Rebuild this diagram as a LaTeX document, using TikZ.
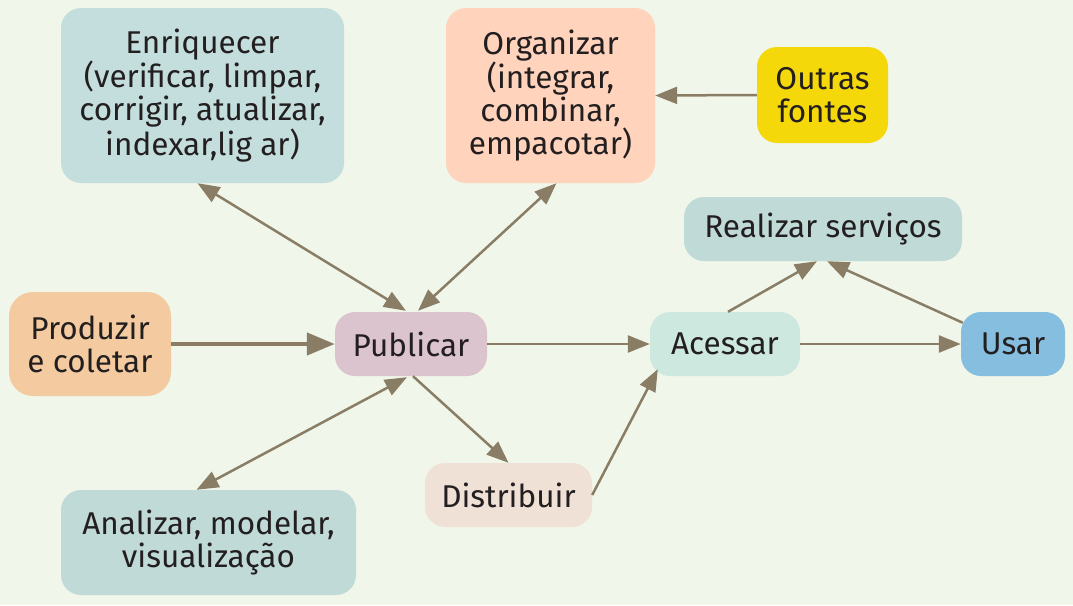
\documentclass[tikz,border=0pt]{standalone}
\usepackage{fontspec}
\setmainfont{Fira Sans}
\usetikzlibrary{arrows.meta}
\definecolor{bgc}{HTML}{F0F6E9}
\definecolor{arr}{HTML}{8A7D66}
\definecolor{txt}{HTML}{231F20}
\definecolor{cEnr}{HTML}{C3DEDC}
\definecolor{cOrg}{HTML}{FFD3BC}
\definecolor{cOut}{HTML}{F5D80A}
\definecolor{cReal}{HTML}{C0DAD7}
\definecolor{cProd}{HTML}{F4CBA0}
\definecolor{cPub}{HTML}{DCC4CE}
\definecolor{cAcc}{HTML}{CDE9DF}
\definecolor{cUsar}{HTML}{86BEE0}
\definecolor{cDist}{HTML}{F0E1D6}
\definecolor{cAnal}{HTML}{C0DAD7}
\tikzset{
  box/.style={rounded corners=20pt, inner sep=0pt, align=center, text=txt,
    font=\fontsize{31.5}{33}\selectfont},
  conn/.style={draw=arr, line width=2.5pt, -{Triangle[length=22pt,width=17pt]}},
  conn2/.style={draw=arr, line width=2.5pt, {Triangle[length=22pt,width=17pt]}-{Triangle[length=22pt,width=17pt]}},
  connthick/.style={draw=arr, line width=4.5pt, -{Triangle[length=28pt,width=22pt]}},
}
\begin{document}
\begin{tikzpicture}[x=1pt,y=-1pt]
\fill[bgc] (0,0) rectangle (1073,605);
\useasboundingbox (0,0) rectangle (1073,605);
\node[box, fill=cEnr, minimum width=283pt, minimum height=175pt] (enr) at (202.5,95.5)
  {Enriquecer\\(verificar, limpar,\\corrigir, atualizar,\\indexar,lig ar)};
\node[box, fill=cOrg, minimum width=209pt, minimum height=175pt] (org) at (550.5,95.5)
  {Organizar\\(integrar,\\combinar,\\empacotar)};
\node[box, fill=cOut, minimum width=131pt, minimum height=96pt] (out) at (822.5,95)
  {Outras\\fontes};
\node[box, fill=cReal, minimum width=278pt, minimum height=64pt] (real) at (823,229)
  {Realizar serviços};
\node[box, fill=cProd, rounded corners=24pt, minimum width=162pt, minimum height=104pt] (prod) at (90,344)
  {Produzir\\e coletar};
\node[box, fill=cPub, minimum width=152pt, minimum height=64pt] (pub) at (411,344)
  {Publicar};
\node[box, fill=cAcc, minimum width=150pt, minimum height=64pt] (acc) at (725,344)
  {Acessar};
\node[box, fill=cUsar, minimum width=104pt, minimum height=64pt] (usar) at (1013,344)
  {Usar};
\node[box, fill=cDist, minimum width=167pt, minimum height=64pt] (dist) at (508.5,495)
  {Distribuir};
\node[box, fill=cAnal, minimum width=295pt, minimum height=105pt] (anal) at (208.5,542.5)
  {Analizar, modelar,\\visualização};

\draw[conn2] ([xshift=-5pt]enr.south) -- ([xshift=-5pt,yshift=1pt]pub.north);
\draw[conn2] ([xshift=6pt]org.south) -- ([xshift=7pt,yshift=1pt]pub.north);
\draw[conn] (out.west) -- (org.east);
\draw[connthick] (prod.east) -- (pub.west);
\draw[conn] (pub.east) -- (acc.west);
\draw[conn] (acc.east) -- (usar.west);
\draw[conn] ([xshift=3pt]acc.north) -- ([xshift=-6pt]real.south);
\draw[conn] ([xshift=2pt,yshift=-11pt]usar.north west) -- ([xshift=4pt]real.south);
\draw[conn2] ([xshift=-12pt]anal.north) -- ([xshift=-4pt,yshift=-1pt]pub.south);
\draw[conn] ([xshift=2pt]pub.south) -- (dist.north);
\draw[conn] (dist.east) -- ([xshift=8pt,yshift=7pt]acc.south west);
\end{tikzpicture}
\end{document}
